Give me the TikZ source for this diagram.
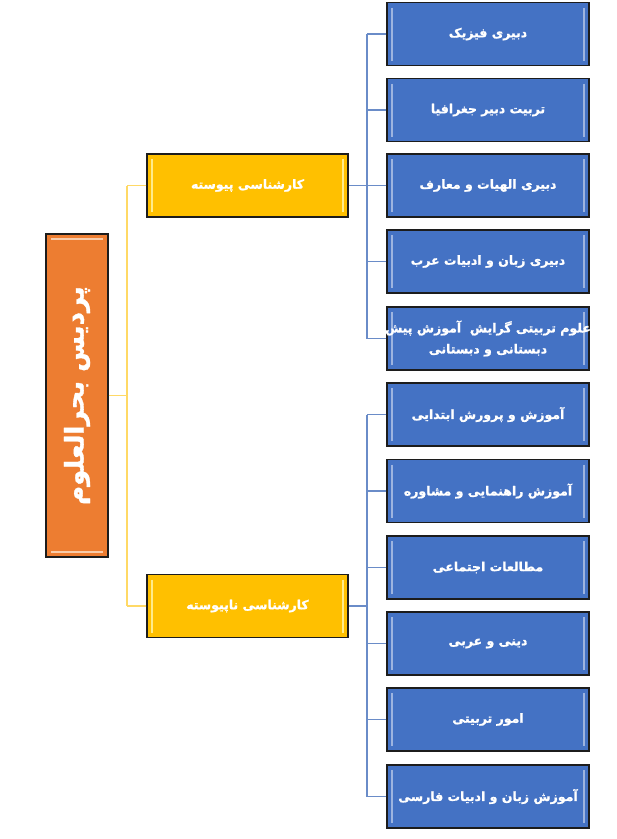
\documentclass[tikz,border=0pt]{standalone}
\usepackage{fontspec}
\newfontfamily\arabicbold[Script=Arabic,FakeBold=1.2]{DejaVu Sans Bold}
\TeXXeTstate=1
\usetikzlibrary{calc}
\definecolor{boxblue}{HTML}{4472C4}
\definecolor{bevblue}{HTML}{9DB4E0}
\definecolor{boxyellow}{HTML}{FFC000}
\definecolor{bevyellow}{HTML}{FFEB8A}
\definecolor{boxorange}{HTML}{ED7D31}
\definecolor{bevorange}{HTML}{F9CBA8}
\definecolor{lineblue}{HTML}{6A8CC8}
\definecolor{lineyellow}{HTML}{FFD966}
\definecolor{edgedark}{HTML}{1C1C1C}
\tikzset{
  basebox/.style={draw=edgedark, line width=1.1pt, inner sep=1pt, text=white, align=center,
    font=\arabicbold\fontsize{12.5}{21}\selectfont},
  bluebox/.style={basebox, fill=boxblue, minimum width=202pt, minimum height=63pt,
    path picture={
      \draw[bevblue, line width=1.6pt]
        ([shift={(5,5)}]path picture bounding box.north west) -- ([shift={(5,-5)}]path picture bounding box.south west)
        ([shift={(-5,5)}]path picture bounding box.north east) -- ([shift={(-5,-5)}]path picture bounding box.south east);
    }},
  yellowbox/.style={basebox, fill=boxyellow, minimum width=201pt, minimum height=63pt,
    path picture={
      \draw[bevyellow, line width=1.6pt]
        ([shift={(5,5)}]path picture bounding box.north west) -- ([shift={(5,-5)}]path picture bounding box.south west)
        ([shift={(-5,5)}]path picture bounding box.north east) -- ([shift={(-5,-5)}]path picture bounding box.south east);
    }},
  orangebox/.style={basebox, fill=boxorange, minimum width=62pt, minimum height=323pt,
    path picture={
      \draw[bevorange, line width=1.6pt]
        ([shift={(5,5)}]path picture bounding box.north west) -- ([shift={(-5,5)}]path picture bounding box.north east)
        ([shift={(5,-5)}]path picture bounding box.south west) -- ([shift={(-5,-5)}]path picture bounding box.south east);
    }},
  bline/.style={draw=lineblue, line width=1.2pt},
  yline/.style={draw=lineyellow, line width=1.4pt},
}
\newcommand{\rtl}[1]{\beginR #1\endR}
\newcommand{\fixline}[1]{\makebox[180pt][c]{\rtl{#1}}}
\begin{document}
\begin{tikzpicture}[x=1pt,y=-1pt]
\useasboundingbox[fill=white] (0,0) rectangle (617,839);
% root
\node[orangebox] (root) at (77,395.5) {};
\node[text=white, font=\arabicbold\fontsize{26}{30}\selectfont, rotate=90] (roottext) at (root.center) {\rtl{پردیس بحرالعلوم}};
% level 1
\node[yellowbox] (y1) at (247.5,185.5) {\rtl{کارشناسی پیوسته}};
\node[yellowbox] (y2) at (247.5,606) {\rtl{کارشناسی ناپیوسته}};
% level 2 (top)
\node[bluebox] (b1) at (488,34) {\rtl{دبیری فیزیک}};
\node[bluebox] (b2) at (488,110) {\rtl{تربیت دبیر جغرافیا}};
\node[bluebox] (b3) at (488,185.5) {\rtl{دبیری الهیات و معارف}};
\node[bluebox] (b4) at (488,261.5) {\rtl{دبیری زبان و ادبیات عرب}};
\node[bluebox] (b5) at (488,338.5) {\fixline{علوم تربیتی گرایش \ آموزش پیش}\\\fixline{دبستانی و دبستانی}};
% level 2 (bottom)
\node[bluebox] (c1) at (488,414.5) {\rtl{آموزش و پرورش ابتدایی}};
\node[bluebox] (c2) at (488,491) {\rtl{آموزش راهنمایی و مشاوره}};
\node[bluebox] (c3) at (488,567.5) {\rtl{مطالعات اجتماعی}};
\node[bluebox] (c4) at (488,643.5) {\rtl{دینی و عربی}};
\node[bluebox] (c5) at (488,719.5) {\rtl{امور تربیتی}};
\node[bluebox] (c6) at (488,796.5) {\rtl{آموزش زبان و ادبیات فارسی}};
% connector rails
\coordinate (yrail) at (127,0);
\coordinate (brail) at (367,0);
% yellow connectors
\draw[yline] (root.east) -- (root.east -| yrail);
\draw[yline] (y1.west -| yrail) -- (y2.west -| yrail);
\draw[yline] (y1.west) -- (y1.west -| yrail);
\draw[yline] (y2.west) -- (y2.west -| yrail);
% blue connectors top
\draw[bline] (b1.west -| brail) -- (b5.west -| brail);
\draw[bline] (y1.east) -- (y1.east -| brail);
\foreach \n in {b1,b2,b3,b4,b5} \draw[bline] (\n.west) -- (\n.west -| brail);
% blue connectors bottom
\draw[bline] (c1.west -| brail) -- (c6.west -| brail);
\draw[bline] (y2.east) -- (y2.east -| brail);
\foreach \n in {c1,c2,c3,c4,c5,c6} \draw[bline] (\n.west) -- (\n.west -| brail);
\end{tikzpicture}
\end{document}
